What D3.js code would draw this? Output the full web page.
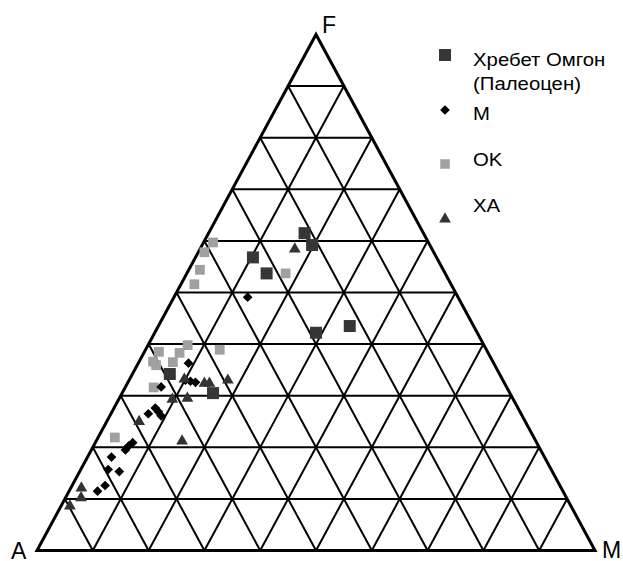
<!DOCTYPE html>
<html>
<head>
<meta charset="utf-8">
<script src="https://cdn.jsdelivr.net/npm/d3@7"></script>
<style>
    body { margin: 0; background: #fff; }
    text { font-family: "Liberation Sans", Arial, sans-serif; }
</style>
</head>
<body>
<div id="chart"></div>
<script>
// ternary data in percent: F and M (A = 100 - F - M)
var omgonF = [61.5, 59.2, 56.8, 53.7, 42.2, 43.5, 34.2, 30.5];
var omgonM = [17.2, 19.7, 10.3, 14.3, 28.9, 34.3, 6.7, 16.3];

var okF = [59.7, 57.8, 54.4, 51.6, 53.7, 39.8, 38.5, 38.3, 38.9, 36.6, 35.9, 36.5, 31.6, 21.9];
var okM = [1.7, 1.1, 2.0, 2.4, 17.7, 7.1, 2.6, 6.4, 13.3, 2.5, 3.4, 6.1, 5.1, 3.0];

var mF = [49.1, 36.3, 33.0, 32.8, 32.6, 31.7, 26.5, 27.6, 26.9, 26.1, 20.9, 20.3, 19.5, 18.1, 15.7, 15.3, 12.6, 11.5];
var mM = [13.2, 9.0, 10.1, 11.1, 12.1, 6.4, 6.7, 7.4, 8.3, 9.2, 6.7, 6.3, 6.1, 4.3, 4.9, 7.1, 5.9, 5.1];

var xaF = [58.4, 33.2, 32.4, 32.4, 33.0, 29.3, 29.5, 25.0, 21.2, 12.1, 10.2, 8.6];
var xaM = [17.0, 9.8, 13.8, 14.7, 17.7, 9.6, 12.2, 5.8, 15.4, 1.9, 2.8, 1.6];

var vertexLabels = ["A", "M", "F"];
var legendLabels = [["Хребет Омгон", "(Палеоцен)"], ["M"], ["OK"], ["XA"]];

var width = 623, height = 561;
var svg = d3.select("#chart").append("svg")
    .attr("width", width)
    .attr("height", height);

// x along the base, y by F
var x = d3.scaleLinear().domain([0, 100]).range([37, 595]);
var y = d3.scaleLinear().domain([0, 100]).range([550.5, 34.5]);

function px(f, m) { return x(m + f / 2); }
function py(f) { return y(f); }

// grid
var grid = svg.append("g")
    .attr("stroke", "#000")
    .attr("stroke-width", 2)
    .attr("fill", "none");

var steps = d3.range(10, 100, 10);
steps.forEach(function (k) {
    // constant F
    grid.append("line")
        .attr("x1", px(k, 0)).attr("y1", py(k))
        .attr("x2", px(k, 100 - k)).attr("y2", py(k));
    // constant M
    grid.append("line")
        .attr("x1", px(0, k)).attr("y1", py(0))
        .attr("x2", px(100 - k, k)).attr("y2", py(100 - k));
    // constant A
    grid.append("line")
        .attr("x1", px(0, 100 - k)).attr("y1", py(0))
        .attr("x2", px(100 - k, 0)).attr("y2", py(100 - k));
});

svg.append("path")
    .attr("d", "M" + px(0, 0) + "," + py(0) +
               "L" + px(0, 100) + "," + py(0) +
               "L" + px(100, 0) + "," + py(100) + "Z")
    .attr("fill", "none")
    .attr("stroke", "#000")
    .attr("stroke-width", 3)
    .attr("stroke-linejoin", "miter");

// series drawing
function drawSeries(F, M, symbol, size, color) {
    svg.append("g").selectAll("path")
        .data(F.map(function (f, i) { return [f, M[i]]; }))
        .enter().append("path")
        .attr("transform", function (d) {
            return "translate(" + px(d[0], d[1]) + "," + py(d[0]) + ")";
        })
        .attr("d", d3.symbol().type(symbol).size(size))
        .attr("fill", color);
}

drawSeries(okF, okM, d3.symbolSquare, 95, "#a0a0a0");
drawSeries(omgonF, omgonM, d3.symbolSquare, 144, "#363636");
drawSeries(mF, mM, d3.symbolDiamond2, 60, "#000");
drawSeries(xaF, xaM, d3.symbolTriangle, 60, "#333");

// vertex labels
svg.append("text").attr("x", 11).attr("y", 559).attr("font-size", 23).text(vertexLabels[0]);
svg.append("text").attr("x", 602).attr("y", 558).attr("font-size", 23).text(vertexLabels[1]);
svg.append("text").attr("x", 322).attr("y", 33).attr("font-size", 23).text(vertexLabels[2]);

// legend
var legend = svg.append("g").attr("font-size", 18.5);
var legendSymbols = [
    {type: d3.symbolSquare, size: 144, color: "#363636", cy: 55, ty: [66, 89.5]},
    {type: d3.symbolDiamond2, size: 60, color: "#000", cy: 110, ty: [120]},
    {type: d3.symbolSquare, size: 90, color: "#a0a0a0", cy: 164, ty: [166]},
    {type: d3.symbolTriangle, size: 60, color: "#333", cy: 219, ty: [212]}
];
legendSymbols.forEach(function (s, i) {
    legend.append("path")
        .attr("transform", "translate(445," + s.cy + ")")
        .attr("d", d3.symbol().type(s.type).size(s.size))
        .attr("fill", s.color);
    legendLabels[i].forEach(function (t, j) {
        legend.append("text")
            .attr("transform", "translate(473," + s.ty[j] + ") scale(1.1,1)")
            .text(t);
    });
});
</script>
</body>
</html>
